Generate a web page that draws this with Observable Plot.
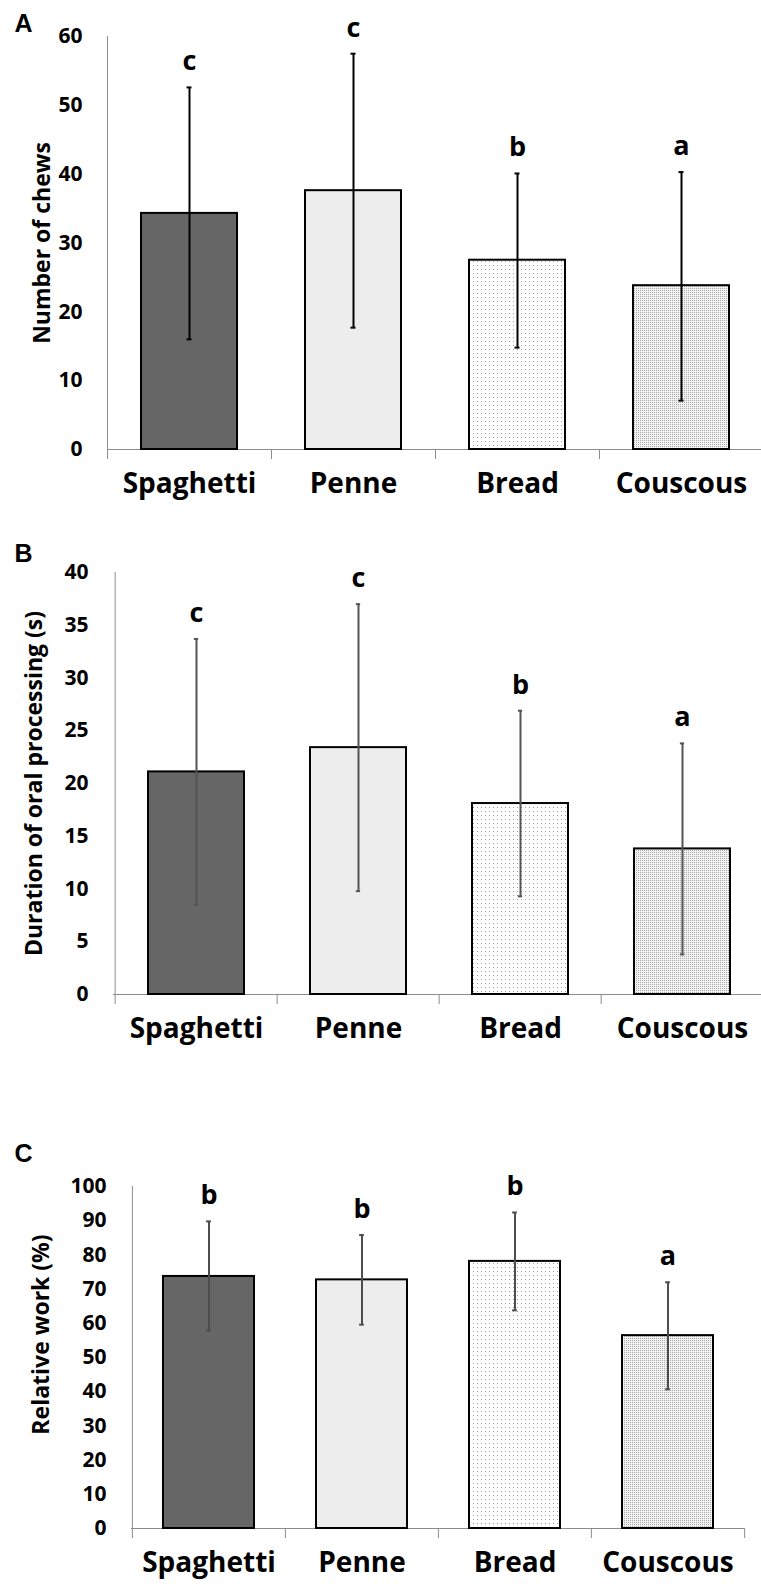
<!DOCTYPE html>
<html>
<head>
<meta charset="utf-8">
<script src="https://cdn.jsdelivr.net/npm/d3@7"></script>
<script src="https://cdn.jsdelivr.net/npm/@observablehq/plot@0.6"></script>
<style>
  html, body { margin: 0; padding: 0; background: white; }
  #chart svg { display: block; }
</style>
</head>
<body>
<svg width="0" height="0" style="position:absolute">
  <defs>
    <pattern id="dotsSparse" width="4" height="4" patternUnits="userSpaceOnUse">
      <rect width="4" height="4" fill="#ffffff"/>
      <rect x="1" y="1" width="1" height="1" fill="#9a9a9a"/>
    </pattern>
    <pattern id="dotsDense" width="2" height="2" patternUnits="userSpaceOnUse">
      <rect width="2" height="2" fill="#f2f2f2"/>
      <rect x="0" y="0" width="1" height="1" fill="#a8a8a8"/>
    </pattern>
  </defs>
</svg>
<div id="chart"></div>
<script>
// ---- data ----
const categories = ["Spaghetti", "Penne", "Bread", "Couscous"];

const chewsMean = [34.3, 37.6, 27.5, 23.8];
const chewsLow = [16.0, 17.7, 14.8, 7.1];
const chewsHigh = [52.6, 57.5, 40.1, 40.3];
const chewsLetters = ["c", "c", "b", "a"];
const chewsTicks = [0, 10, 20, 30, 40, 50, 60];

const durationMean = [21.1, 23.4, 18.1, 13.8];
const durationLow = [8.5, 9.8, 9.3, 3.8];
const durationHigh = [33.7, 37.0, 26.9, 23.8];
const durationLetters = ["c", "c", "b", "a"];
const durationTicks = [0, 5, 10, 15, 20, 25, 30, 35, 40];

const workMean = [73.7, 72.7, 78.1, 56.4];
const workLow = [57.9, 59.6, 63.8, 40.7];
const workHigh = [89.8, 85.8, 92.4, 72.0];
const workLetters = ["b", "b", "b", "a"];
const workTicks = [0, 10, 20, 30, 40, 50, 60, 70, 80, 90, 100];

// ---- styles ----
const barFills = ["#666666", "#ededed", "url(#dotsSparse)", "url(#dotsDense)"];
const W = 761;
const axisGray = "#8c8c8c";
const FONT = "'Open Sans', sans-serif";

function panel(cfg) {
  const data = categories.map((c, i) => ({
    cat: c, mean: cfg.mean[i], low: cfg.low[i], high: cfg.high[i],
    letter: cfg.letters[i], fill: barFills[i]
  }));
  const step = (W - cfg.marginLeft - cfg.marginRight) / categories.length;
  const capInset = (step - 5) / 2;
  const yMax = cfg.ticks[cfg.ticks.length - 1];
  return Plot.plot({
    width: W,
    height: cfg.height,
    marginTop: cfg.marginTop,
    marginBottom: cfg.marginBottom,
    marginLeft: cfg.marginLeft,
    marginRight: cfg.marginRight,
    style: {fontFamily: FONT, fontSize: "21px", fontWeight: "bold", background: "white", color: "black"},
    x: {type: "band", domain: categories, padding: 0, axis: null},
    y: {domain: [0, yMax]},
    color: {type: "identity"},
    marks: [
      Plot.ruleY([0], {stroke: axisGray, strokeWidth: 1}),
      Plot.ruleX([categories[0]], {y1: 0, y2: yMax, dx: -step / 2, stroke: axisGray, strokeWidth: 1}),
      Plot.ruleX(categories, {x: d => d, y1: 0, y2: 0, insetTop: 10, dx: -step / 2, stroke: axisGray, strokeWidth: 1}),
      Plot.ruleX([categories[categories.length - 1]], {y1: 0, y2: 0, insetTop: 10, dx: step / 2, stroke: axisGray, strokeWidth: 1}),
      Plot.barY(data, {x: "cat", y: "mean", fill: "fill", stroke: "black", strokeWidth: 2, insetLeft: cfg.inset, insetRight: cfg.inset}),
      Plot.ruleX(data, {x: "cat", y1: "low", y2: "high", stroke: cfg.errColor, strokeWidth: 2}),
      Plot.tickY(data, {x: "cat", y: "high", stroke: cfg.errColor, strokeWidth: 2, insetLeft: capInset, insetRight: capInset}),
      Plot.tickY(data, {x: "cat", y: "low", stroke: cfg.errColor, strokeWidth: 2, insetLeft: capInset, insetRight: capInset}),
      Plot.text(data, {x: "cat", y: "high", text: "letter", lineAnchor: "bottom", dy: -17, fontSize: 27}),
      Plot.axisY({ticks: cfg.ticks, tickSize: 0, tickPadding: 25, label: null}),
      Plot.text(categories, {x: d => d, frameAnchor: "bottom", dy: 43, fontSize: 28}),
      Plot.text([cfg.title], {frameAnchor: "left", textAnchor: "middle", lineAnchor: "middle", rotate: -90, dx: cfg.titleDx, dy: cfg.titleDy, fontSize: 23}),
      Plot.text([cfg.tag], {frameAnchor: "top-left", textAnchor: "start", lineAnchor: "top", dx: cfg.tagDx, dy: cfg.tagDy, fontSize: 25, fontWeight: "bold", fontFamily: "'Liberation Sans', Arial, sans-serif"})
    ]
  });
}

const chart = document.getElementById("chart");

chart.appendChild(panel({
  mean: chewsMean, low: chewsLow, high: chewsHigh, letters: chewsLetters, ticks: chewsTicks,
  title: "Number of chews", tag: "A",
  height: 510, marginTop: 36, marginBottom: 61, marginLeft: 107, marginRight: -2,
  inset: 34, errColor: "#000000",
  titleDx: -65, titleDy: 0, tagDx: -93, tagDy: -22
}));

chart.appendChild(panel({
  mean: durationMean, low: durationLow, high: durationHigh, letters: durationLetters, ticks: durationTicks,
  title: "Duration of oral processing (s)", tag: "B",
  height: 540, marginTop: 62, marginBottom: 56, marginLeft: 113, marginRight: -3,
  inset: 33, errColor: "#555555",
  titleDx: -79, titleDy: 0, tagDx: -99, tagDy: -28
}));

chart.appendChild(panel({
  mean: workMean, low: workLow, high: workHigh, letters: workLetters, ticks: workTicks,
  title: "Relative work (%)", tag: "C",
  height: 536, marginTop: 136, marginBottom: 58, marginLeft: 131, marginRight: 17,
  inset: 31, errColor: "#4d4d4d",
  titleDx: -90, titleDy: -23, tagDx: -117, tagDy: -42
}));
</script>
</body>
</html>
